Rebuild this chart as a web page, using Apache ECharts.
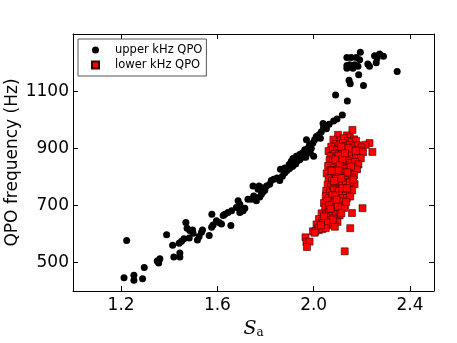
<!DOCTYPE html>
<html>
<head>
<meta charset="utf-8">
<script src="https://cdn.jsdelivr.net/npm/echarts@6/dist/echarts.min.js"></script>
<style>
  html, body { margin: 0; padding: 0; background: #fff; }
  #chart { width: 457px; height: 343px; }
</style>
</head>
<body>
<div id="chart"></div>
<script>
// tick values
const xTicks = [1.2, 1.6, 2.0, 2.4];
const yTicks = [500, 700, 900, 1100];

// upper kHz QPO: [S_a, frequency]
const upperQPO = [
  [1.212, 446], [1.253, 455], [1.253, 438], [1.289, 443], [1.296, 482], [1.223, 577],
  [1.350, 505], [1.356, 498], [1.361, 513], [1.389, 597], [1.414, 560], [1.419, 519],
  [1.444, 533], [1.444, 519], [1.441, 567], [1.451, 574], [1.461, 583], [1.469, 640],
  [1.474, 620], [1.485, 612], [1.497, 614], [1.499, 602], [1.483, 586], [1.517, 579],
  [1.524, 591], [1.534, 606], [1.538, 614], [1.566, 594], [1.577, 669], [1.576, 623],
  [1.582, 631], [1.596, 646], [1.607, 640], [1.617, 635], [1.624, 664], [1.631, 669],
  [1.656, 629], [1.644, 675], [1.659, 681], [1.686, 716], [1.693, 704], [1.679, 692],
  [1.700, 687], [1.693, 675], [1.707, 681], [1.714, 690], [1.727, 721], [1.741, 721],
  [1.748, 768], [1.773, 768], [1.762, 716], [1.751, 733], [1.776, 729], [1.783, 739],
  [1.790, 748], [1.769, 756], [1.783, 762], [1.797, 753], [1.804, 768], [1.817, 774],
  [1.824, 787], [1.834, 791], [1.848, 796], [1.859, 787], [1.870, 802], [1.880, 814],
  [1.889, 822], [1.900, 829], [1.912, 837], [1.921, 845], [1.931, 854], [1.942, 860],
  [1.956, 868], [1.967, 878], [1.972, 887], [1.976, 900], [1.983, 906],
  [1.862, 826], [1.880, 831], [1.898, 843], [1.907, 854], [1.914, 864], [1.928, 872],
  [1.942, 878], [1.953, 883], [1.963, 895], [1.970, 930], [1.983, 912], [1.990, 900],
  [1.997, 918], [2.004, 930], [2.011, 941], [2.022, 947], [2.028, 935], [2.032, 958],
  [2.039, 987], [2.041, 972], [2.050, 979], [2.053, 968], [2.064, 984], [2.000, 872],
  [1.986, 883], [1.967, 868], [1.925, 845], [1.912, 837], [2.083, 995], [2.097, 1002],
  [2.119, 1016], [2.091, 1086], [2.140, 1065], [2.147, 1138], [2.152, 1126], [2.187, 1157],
  [2.207, 1120], [2.138, 1190], [2.149, 1192], [2.161, 1187], [2.170, 1192], [2.184, 1187],
  [2.138, 1180], [2.163, 1180], [2.225, 1195], [2.232, 1187], [2.260, 1199], [2.138, 1218],
  [2.156, 1218], [2.177, 1218], [2.191, 1210], [2.194, 1236], [2.253, 1224], [2.274, 1230],
  [2.290, 1222], [2.263, 1215], [2.347, 1169]
];

// lower kHz QPO: [S_a, frequency]
const lowerQPO = [
  [2.161, 964], [2.101, 947], [2.138, 945], [2.150, 938], [2.168, 931], [2.232, 918], [2.216, 912], [2.244, 887],
  [2.082, 930], [2.112, 928], [2.125, 935], [2.141, 925], [2.157, 922], [2.176, 926], [2.094, 915], [2.107, 910],
  [2.122, 918], [2.134, 908], [2.150, 912], [2.163, 906], [2.185, 910], [2.198, 903], [2.073, 905],
  [2.062, 890], [2.080, 896], [2.098, 893], [2.110, 885], [2.126, 897], [2.140, 889], [2.158, 895], [2.171, 884],
  [2.190, 892], [2.205, 886], [2.086, 880], [2.118, 878],
  [2.070, 872], [2.091, 866], [2.103, 874], [2.131, 869], [2.147, 875], [2.164, 862], [2.178, 870], [2.196, 865], [2.066, 858],
  [2.079, 850], [2.096, 845], [2.113, 853], [2.124, 842], [2.139, 856], [2.153, 848], [2.172, 852], [2.186, 843], [2.060, 838],
  [2.084, 832], [2.101, 827], [2.117, 836], [2.135, 829], [2.148, 822], [2.161, 834], [2.180, 826], [2.071, 824],
  [2.054, 812], [2.073, 806], [2.089, 815], [2.104, 808], [2.121, 818], [2.133, 803], [2.150, 811], [2.168, 806], [2.097, 800],
  [2.062, 795], [2.076, 787], [2.093, 792], [2.110, 783], [2.124, 796], [2.142, 789], [2.159, 797], [2.128, 781],
  [2.058, 772], [2.072, 766], [2.088, 776], [2.101, 763], [2.117, 770], [2.134, 775], [2.151, 765], [2.170, 774], [2.082, 758],
  [2.052, 751], [2.068, 745], [2.085, 753], [2.099, 742], [2.112, 756], [2.129, 748], [2.145, 741], [2.160, 752],
  [2.050, 732], [2.064, 725], [2.078, 736], [2.093, 728], [2.107, 721], [2.121, 734], [2.138, 726], [2.152, 731], [2.070, 713],
  [2.043, 708], [2.057, 716], [2.074, 702], [2.089, 711], [2.103, 705], [2.118, 714], [2.131, 700],
  [2.048, 693], [2.062, 685], [2.079, 696], [2.096, 688], [2.110, 681], [2.126, 691], [2.203, 690], [2.083, 678],
  [2.033, 672], [2.051, 668], [2.064, 676], [2.077, 662], [2.093, 670], [2.108, 665], [2.159, 673],
  [2.022, 652], [2.036, 645], [2.052, 657], [2.068, 648], [2.084, 654], [2.099, 642], [2.043, 661],
  [2.012, 633], [2.027, 626], [2.041, 638], [2.058, 630], [2.075, 636], [2.152, 620], [2.018, 620],
  [1.997, 609], [2.007, 609], [2.021, 613], [2.036, 617], [2.004, 604],
  [1.966, 588], [1.970, 571], [1.983, 573], [1.972, 554], [2.129, 539],
  [2.115, 905], [2.145, 900], [2.090, 860], [2.120, 862], [2.155, 836], [2.108, 840], [2.140, 815], [2.115, 795],
  [2.085, 785], [2.150, 780], [2.105, 750], [2.120, 760], [2.090, 735], [2.135, 712], [2.065, 700], [2.100, 695],
  [2.115, 672], [2.070, 688], [2.060, 640], [2.088, 625], [2.050, 620], [2.175, 890], [2.130, 882], [2.103, 822],
  [2.075, 820], [2.165, 790], [2.138, 760], [2.095, 720], [2.080, 650], [2.030, 630]
];

const chart = echarts.init(document.getElementById('chart'));

const tickStyle = { inside: true, length: 5, lineStyle: { color: '#000', width: 1 } };
const lineStyle = { show: true, onZero: false, lineStyle: { color: '#000', width: 1 } };
const labelFont = { color: '#000', fontFamily: 'DejaVu Sans', fontSize: 17 };

chart.setOption({
  animation: false,
  grid: { left: 73, right: 23, top: 34, bottom: 52, containLabel: false, outerBoundsMode: 'none' },
  legend: {
    orient: 'vertical',
    left: 78,
    top: 39,
    padding: [4, 4, 4, 13],
    itemGap: 1,
    itemWidth: 7,
    itemHeight: 7,
    borderColor: '#555',
    borderWidth: 1,
    borderRadius: 0,
    backgroundColor: '#fff',
    textStyle: { color: '#000', fontFamily: 'DejaVu Sans', fontSize: 11.5, lineHeight: 14, padding: [0, 0, 0, 11] },
    data: ['upper kHz QPO', 'lower kHz QPO']
  },
  xAxis: [
    {
      type: 'value', min: 1.0, max: 2.5, position: 'bottom',
      name: '{s|S}{a|a}', nameLocation: 'middle', nameGap: 28, nameMoveOverlap: false,
      nameTextStyle: {
        rich: {
          s: { fontFamily: 'DejaVu Serif', fontStyle: 'italic', fontSize: 19, color: '#000' },
          a: { fontFamily: 'DejaVu Serif', fontSize: 12, color: '#000', verticalAlign: 'bottom', padding: [8, 0, 0, 0] }
        }
      },
      axisLine: lineStyle,
      axisTick: Object.assign({ customValues: xTicks }, tickStyle),
      axisLabel: Object.assign({ customValues: xTicks, margin: 6, formatter: v => v.toFixed(1) }, labelFont),
      splitLine: { show: false }
    },
    {
      type: 'value', min: 1.0, max: 2.5, position: 'top',
      axisLine: lineStyle,
      axisTick: Object.assign({ customValues: xTicks }, tickStyle),
      axisLabel: { show: false },
      splitLine: { show: false }
    }
  ],
  yAxis: [
    {
      type: 'value', min: 400, max: 1300, position: 'left',
      name: 'QPO frequency (Hz)', nameLocation: 'middle', nameGap: 52, nameRotate: 90, nameMoveOverlap: false,
      nameTextStyle: { color: '#000', fontFamily: 'DejaVu Sans', fontSize: 17 },
      axisLine: lineStyle,
      axisTick: Object.assign({ customValues: yTicks }, tickStyle),
      axisLabel: Object.assign({ customValues: yTicks, margin: 4, formatter: v => String(v) }, labelFont),
      splitLine: { show: false }
    },
    {
      type: 'value', min: 400, max: 1300, position: 'right',
      axisLine: lineStyle,
      axisTick: Object.assign({ customValues: yTicks }, tickStyle),
      axisLabel: { show: false },
      splitLine: { show: false }
    }
  ],
  series: [
    {
      name: 'upper kHz QPO',
      type: 'scatter',
      data: upperQPO,
      symbol: 'circle',
      symbolSize: 7,
      itemStyle: { color: '#000', opacity: 1 }
    },
    {
      name: 'lower kHz QPO',
      type: 'scatter',
      data: lowerQPO,
      symbol: 'rect',
      symbolSize: 7,
      itemStyle: { color: '#ff0000', borderColor: '#3a0000', borderWidth: 0.6, opacity: 1 }
    }
  ]
});
</script>
</body>
</html>
